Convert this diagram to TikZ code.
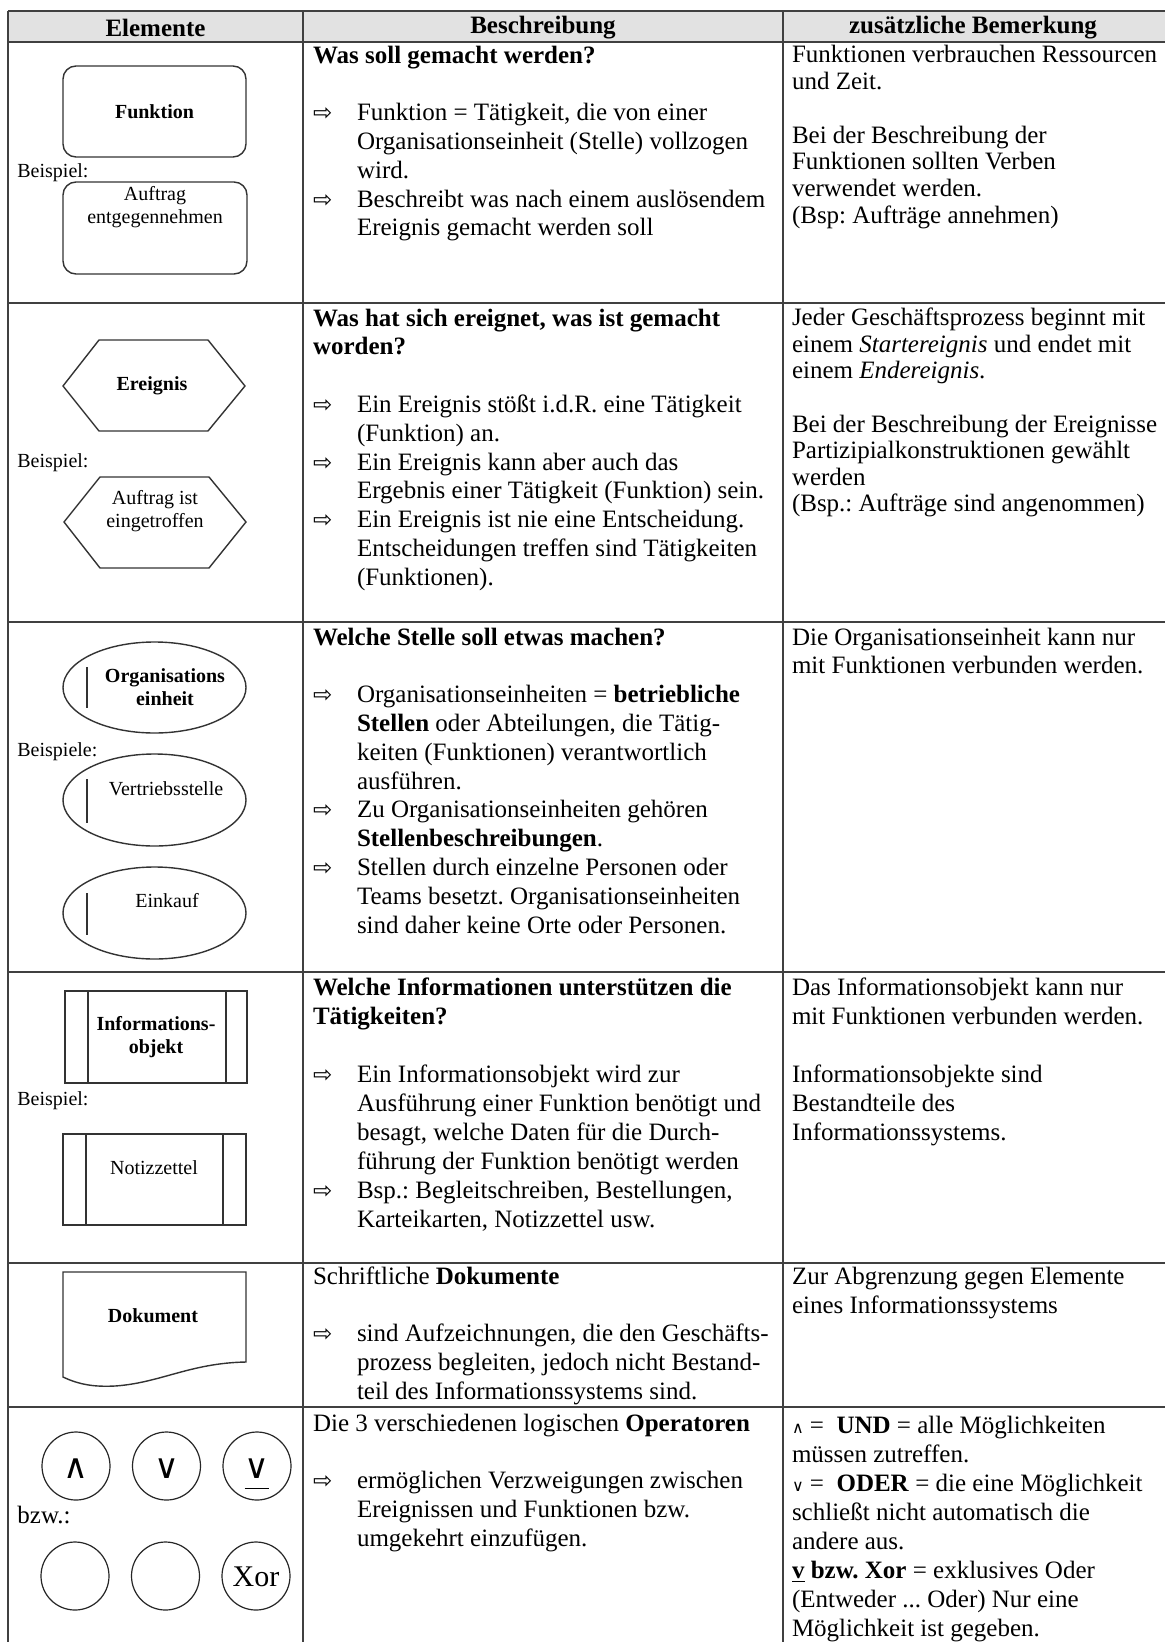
\documentclass[tikz,border=0pt]{standalone}
\usepackage{fontspec}
\setmainfont{Liberation Serif}
\newfontfamily\symbolschrift{DejaVu Sans}
\usetikzlibrary{calc}
\frenchspacing
\definecolor{kopfgrau}{HTML}{E2E2E2}
\newcommand\Pfeil{\makebox[22pt][l]{\symbolschrift\fontsize{11.5}{11.5}\selectfont ⇨}}
\newcommand\Einzug{\hspace*{22pt}}
\newcommand\KleinOp[1]{{\symbolschrift\fontsize{8}{8}\selectfont #1}}
\tikzset{%
  gitter/.style={line width=0.9pt, draw=black!75},
  form/.style={line width=0.7pt, draw=black!80},
  zelle/.style={anchor=north west, inner sep=0pt, outer sep=0pt, align=left,
    font=\fontsize{12.5}{#1}\selectfont},
  zelle/.default=14.4pt,
  kopf/.style={inner sep=0pt, font=\fontsize{12.5}{14}\selectfont\bfseries},
  beschriftung/.style={inner sep=0pt, align=center, font=\fontsize{10}{11.5}\selectfont},
  fett/.style={beschriftung, font=\fontsize{10}{11.5}\selectfont\bfseries},
  bsp/.style={anchor=west, inner sep=0pt, font=\fontsize{10}{11.5}\selectfont},
  opkreis/.style={circle, draw=black!85, line width=0.6pt, minimum size=34pt,
    inner sep=0pt, text height=12.4pt, text depth=0pt,
    font=\symbolschrift\fontsize{17}{17}\selectfont}%
}
\begin{document}
\begin{tikzpicture}[x=0.5pt,y=-0.5pt]
\useasboundingbox (0,0) rectangle (1165,1642);
\fill[white] (0,0) rectangle (1165,1642);

% Tabelle
\fill[kopfgrau] (8,11) rectangle (1165,42);
\foreach \y in {11,42,303,622,972,1263,1407} { \draw[gitter] (8,\y) -- (1165,\y); }
\foreach \x in {8,303,783} { \draw[gitter] (\x,11) -- (\x,1642); }

\node[kopf] (kElemente) at (155.5,28) {Elemente};
\node[kopf] (kBeschreibung) at (543,28) {Beschreibung};
\node[kopf] (kBemerkung) at (973,28) {zusätzliche Bemerkung};

% Funktion
\draw[form, rounded corners=6.5pt] (63,66) rectangle (246,157);
\node[fett] (funktion) at (154.5,111.5) {Funktion};
\node[bsp] (bspFunktion) at (17,173) {Beispiel:};
\draw[form, rounded corners=6.5pt] (63,182) rectangle (247,274);
\node[beschriftung] (auftrag) at (155,207.5) {Auftrag\\entgegennehmen};

\node[zelle] (beschrFunktion) at (313,43) {\strut\textbf{Was soll gemacht werden?}\\
  \mbox{}\\
  \Pfeil Funktion = Tätigkeit, die von einer\\
  \Einzug Organisationseinheit (Stelle) vollzogen\\
  \Einzug wird.\\
  \Pfeil Beschreibt was nach einem auslösendem\\
  \Einzug Ereignis gemacht werden soll};
\node[zelle=13.4pt] (bemFunktion) at (792,44) {\strut Funktionen verbrauchen Ressourcen\\
  und Zeit.\\
  \mbox{}\\
  Bei der Beschreibung der\\
  Funktionen sollten Verben\\
  verwendet werden.\\
  (Bsp: Aufträge annehmen)};

% Ereignis
\draw[form] (63,386) -- (99,340) -- (208,340) -- (245,386) -- (208,431) -- (99,431) -- cycle;
\node[fett] (ereignis) at (152,386) {Ereignis};
\node[bsp] (bspEreignis) at (17,463) {Beispiel:};
\draw[form] (64,522) -- (100,477) -- (209,477) -- (246,522) -- (209,568) -- (100,568) -- cycle;
\node[beschriftung] (eingetroffen) at (155,511) {Auftrag ist\\eingetroffen};

\node[zelle] (beschrEreignis) at (313,306) {\strut\textbf{Was hat sich ereignet, was ist gemacht}\\
  \textbf{worden?}\\
  \mbox{}\\
  \Pfeil Ein Ereignis stößt i.d.R. eine Tätigkeit\\
  \Einzug (Funktion) an.\\
  \Pfeil Ein Ereignis kann aber auch das\\
  \Einzug Ergebnis einer Tätigkeit (Funktion) sein.\\
  \Pfeil Ein Ereignis ist nie eine Entscheidung.\\
  \Einzug Entscheidungen treffen sind Tätigkeiten\\
  \Einzug (Funktionen).};
\node[zelle=13.3pt] (bemEreignis) at (792,307) {\strut Jeder Geschäftsprozess beginnt mit\\
  einem \textit{Startereignis} und endet mit\\
  einem \textit{Endereignis}.\\
  \mbox{}\\
  Bei der Beschreibung der Ereignisse\\
  Partizipialkonstruktionen gewählt\\
  werden\\
  (Bsp.: Aufträge sind angenommen)};

% Organisationseinheit
\draw[form] (154.5,687.5) ellipse [x radius=91.5, y radius=45.5];
\draw[form] (87,667) -- (87,708);
\node[fett] (orgEinheit) at (165,687.5) {Organisations\\einheit};
\node[bsp] (bspOrg) at (17,752) {Beispiele:};
\draw[form] (154.5,800) ellipse [x radius=91.5, y radius=46];
\draw[form] (87,779) -- (87,823);
\node[beschriftung] (vertrieb) at (166,789) {Vertriebsstelle};
\draw[form] (154.5,913) ellipse [x radius=91.5, y radius=46];
\draw[form] (87,893) -- (87,935);
\node[beschriftung] (einkauf) at (167,901) {Einkauf};

\node[zelle] (beschrOrg) at (313,625) {\strut\textbf{Welche Stelle soll etwas machen?}\\
  \mbox{}\\
  \Pfeil Organisationseinheiten = \textbf{betriebliche}\\
  \Einzug\textbf{Stellen} oder Abteilungen, die Tätig-\\
  \Einzug keiten (Funktionen) verantwortlich\\
  \Einzug ausführen.\\
  \Pfeil Zu Organisationseinheiten gehören\\
  \Einzug\textbf{Stellenbeschreibungen}.\\
  \Pfeil Stellen durch einzelne Personen oder\\
  \Einzug Teams besetzt. Organisationseinheiten\\
  \Einzug sind daher keine Orte oder Personen.};
\node[zelle] (bemOrg) at (792,625) {\strut Die Organisationseinheit kann nur\\
  mit Funktionen verbunden werden.};

% Informationsobjekt
\draw[form] (65,991) rectangle (247,1083);
\draw[form] (88,991) -- (88,1083) (226,991) -- (226,1083);
\node[fett] (infoObjekt) at (156,1037.5) {Informations-\\objekt};
\node[bsp] (bspInfo) at (17,1101) {Beispiel:};
\draw[form] (63,1134) rectangle (246,1225);
\draw[form] (86,1134) -- (86,1225) (223,1134) -- (223,1225);
\node[beschriftung] (notizzettel) at (154,1168) {Notizzettel};

\node[zelle=14.5pt] (beschrInfo) at (313,975) {\strut\textbf{Welche Informationen unterstützen die}\\
  \textbf{Tätigkeiten?}\\
  \mbox{}\\
  \Pfeil Ein Informationsobjekt wird zur\\
  \Einzug Ausführung einer Funktion benötigt und\\
  \Einzug besagt, welche Daten für die Durch-\\
  \Einzug führung der Funktion benötigt werden\\
  \Pfeil Bsp.: Begleitschreiben, Bestellungen,\\
  \Einzug Karteikarten, Notizzettel usw.};
\node[zelle=14.5pt] (bemInfo) at (792,975) {\strut Das Informationsobjekt kann nur\\
  mit Funktionen verbunden werden.\\
  \mbox{}\\
  Informationsobjekte sind\\
  Bestandteile des\\
  Informationssystems.};

% Dokument
\draw[form] (63,1272) -- (246,1272) -- (246,1362)
  .. controls (190,1363) and (160,1383) .. (115,1386)
  .. controls (95,1387) and (80,1385) .. (63,1377) -- cycle;
\node[fett] (dokument) at (153,1316) {Dokument};

\node[zelle] (beschrDok) at (313,1264) {\strut Schriftliche \textbf{Dokumente}\\
  \mbox{}\\
  \Pfeil sind Aufzeichnungen, die den Geschäfts-\\
  \Einzug prozess begleiten, jedoch nicht Bestand-\\
  \Einzug teil des Informationssystems sind.};
\node[zelle=14.5pt] (bemDok) at (792,1264) {\strut Zur Abgrenzung gegen Elemente\\
  eines Informationssystems};

% Operatoren
\node[opkreis] (und) at (76,1466) {∧};
\node[opkreis] (oder) at (166.5,1466) {∨};
\node[opkreis] (xoder) at (257,1466) {\underline{∨\vphantom{g}}};
\node[anchor=west, inner sep=0pt, font=\fontsize{12.5}{14}\selectfont] (bzw) at (17,1515) {bzw.:};
\node[opkreis] (undLeer) at (75,1576) {};
\node[opkreis] (oderLeer) at (165.5,1576) {};
\node[opkreis, font=\fontsize{15}{15}\selectfont, text height=10pt] (xor) at (256,1576) {Xor};

\node[zelle] (beschrOp) at (313,1411) {\strut Die 3 verschiedenen logischen \textbf{Operatoren}\\
  \mbox{}\\
  \Pfeil ermöglichen Verzweigungen zwischen\\
  \Einzug Ereignissen und Funktionen bzw.\\
  \Einzug umgekehrt einzufügen.};
\node[zelle=14.5pt] (bemOp) at (792,1413) {\strut\KleinOp{∧} =\ \ \textbf{UND} = alle Möglichkeiten\\
  müssen zutreffen.\\
  \KleinOp{∨} =\ \ \textbf{ODER} = die eine Möglichkeit\\
  schließt nicht automatisch die\\
  andere aus.\\
  \underline{\textbf{v}} \textbf{bzw. Xor} = exklusives Oder\\
  (Entweder ... Oder) Nur eine\\
  Möglichkeit ist gegeben.};
\end{tikzpicture}
\end{document}
